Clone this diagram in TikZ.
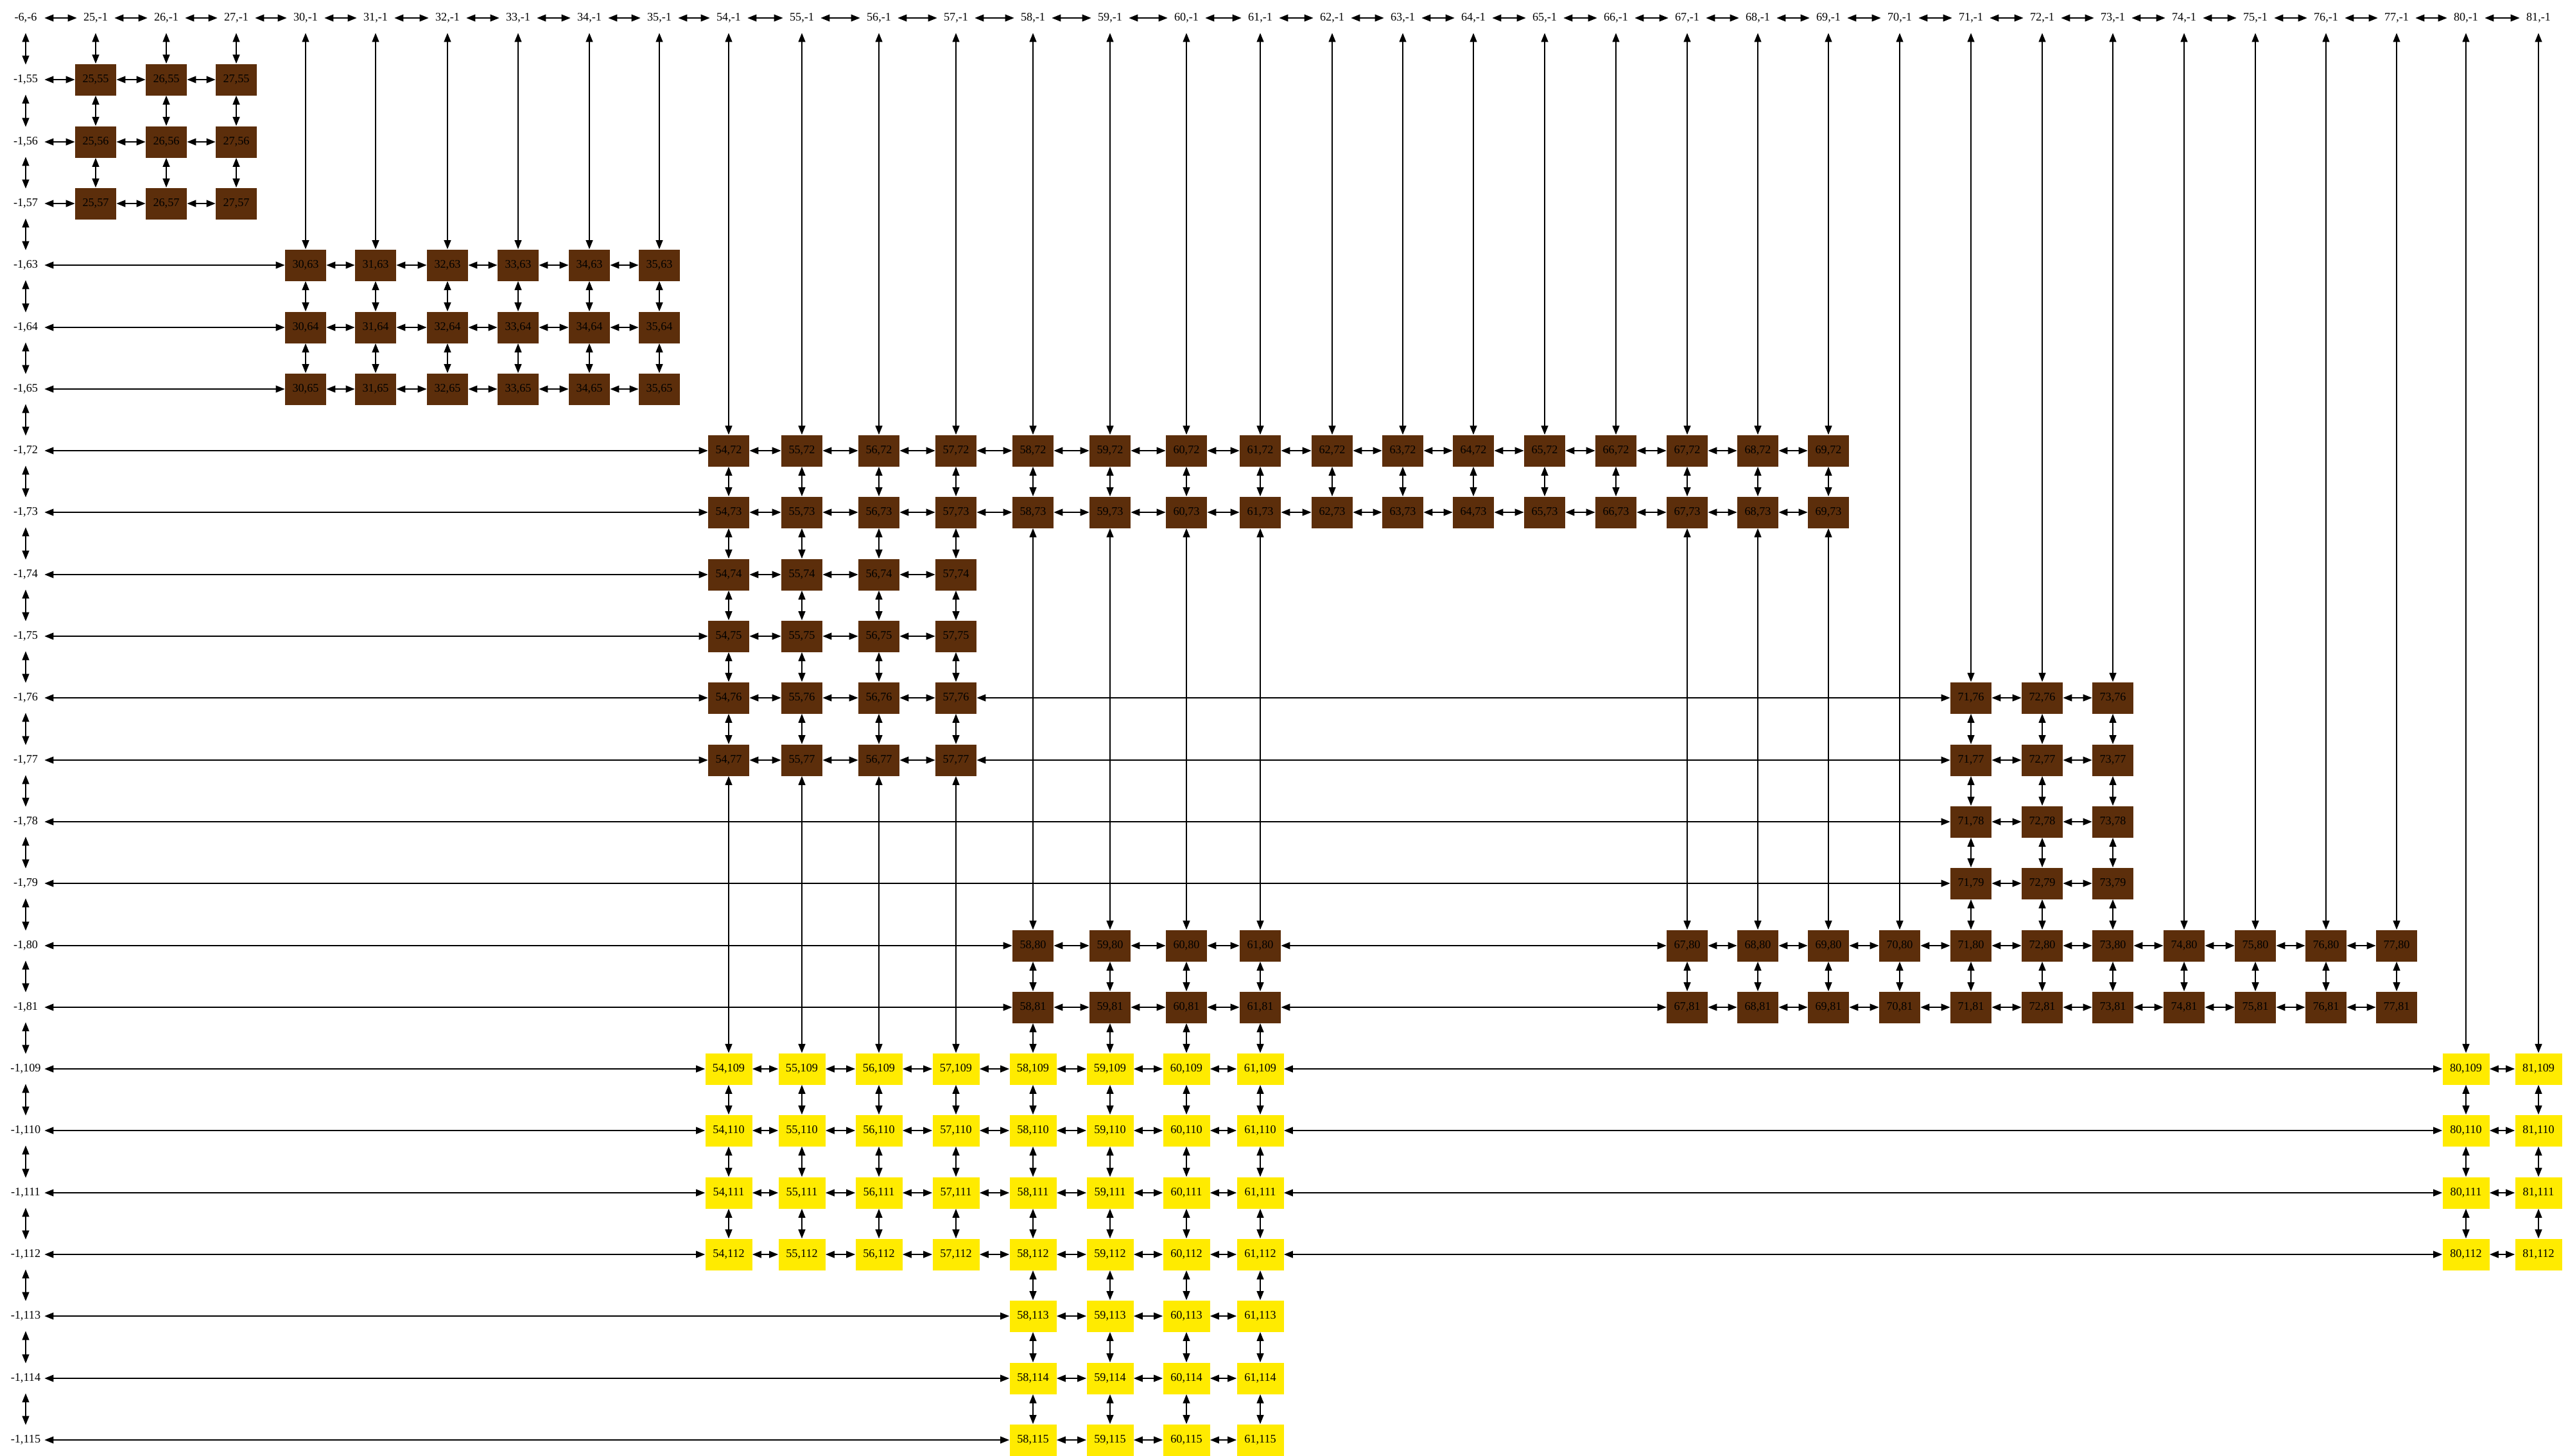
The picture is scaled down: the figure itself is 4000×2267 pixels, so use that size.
\documentclass[tikz,border=0pt]{standalone}
\usepackage{fontspec}
\setmainfont{Liberation Serif}
\usetikzlibrary{arrows.meta}
\definecolor{cellbrown}{RGB}{92,46,11}
\definecolor{cellyellow}{RGB}{255,235,0}

\begin{document}
\begin{tikzpicture}[
  x=0.5pt, y=-0.5pt,
  hdr/.style={inner sep=0pt, minimum width=29pt, minimum height=23pt, font=\fontsize{9.1}{10}\selectfont},
  brick/.style={fill=cellbrown, inner sep=0pt, minimum width=32pt, minimum height=24.5pt, font=\fontsize{9.1}{10}\selectfont},
  gold/.style={brick, fill=cellyellow, minimum width=36.5pt},
  link/.style={{Triangle[length=7pt,width=5.5pt]}-{Triangle[length=7pt,width=5.5pt]}, line width=0.65pt}
]
  \useasboundingbox (0,0) rectangle (4000,2267);

  % header row and header column
  \node[hdr] (n0-0) at (40,28) {-6,-6};
  \foreach \c/\x in {25/149, 26/259, 27/368, 30/476, 31/585, 32/697, 33/807, 34/918, 35/1027,
                     54/1135, 55/1249, 56/1369, 57/1489, 58/1609, 59/1729, 60/1848, 61/1963,
                     62/2075, 63/2185, 64/2295, 65/2406, 66/2517, 67/2628, 68/2738, 69/2848,
                     70/2959, 71/3070, 72/3181, 73/3291, 74/3402, 75/3513, 76/3623, 77/3733,
                     80/3841, 81/3954}
    \node[hdr] (n\c-0) at (\x,28) {\c,-1};
  \foreach \r/\y in {55/124, 56/221, 57/317, 63/413, 64/510, 65/606, 72/702, 73/798,
                     74/895, 75/991, 76/1087, 77/1184, 78/1280, 79/1376, 80/1473, 81/1569,
                     109/1665, 110/1761, 111/1858, 112/1954, 113/2050, 114/2147, 115/2243}
    \node[hdr] (n0-\r) at (40,\y) {-1,\r};

  % cells
  \foreach \cols/\rows/\kind in {
      {25,26,27}/{55,56,57}/brick,
      {30,...,35}/{63,64,65}/brick,
      {54,...,69}/{72,73}/brick,
      {54,...,57}/{74,...,77}/brick,
      {71,72,73}/{76,...,79}/brick,
      {58,...,61,67,68,...,77}/{80,81}/brick,
      {54,...,61,80,81}/{109,...,112}/gold,
      {58,...,61}/{113,114,115}/gold}
    \foreach \r in \rows
      \foreach \c in \cols
        \node[\kind] (n\c-\r) at (n\c-0 |- n0-\r) {\c,\r};

  % links along the rows
  \foreach \c [remember=\c as \p (initially 0)] in {25,26,27,30,31,32,33,34,35,54,55,56,57,58,59,60,61,
      62,63,64,65,66,67,68,69,70,71,72,73,74,75,76,77,80,81}
    \draw[link] (n\p-0) -- (n\c-0);
  \foreach \rows/\cols in {
      {55,56,57}/{25,26,27},
      {63,64,65}/{30,31,32,33,34,35},
      {72,73}/{54,55,56,57,58,59,60,61,62,63,64,65,66,67,68,69},
      {74,75}/{54,55,56,57},
      {76,77}/{54,55,56,57,71,72,73},
      {78,79}/{71,72,73},
      {80,81}/{58,59,60,61,67,68,69,70,71,72,73,74,75,76,77},
      {109,...,112}/{54,55,56,57,58,59,60,61,80,81},
      {113,114,115}/{58,59,60,61}}
    \foreach \r in \rows
      \foreach \c [remember=\c as \p (initially 0)] in \cols
        \draw[link] (n\p-\r) -- (n\c-\r);

  % links along the columns
  \foreach \r [remember=\r as \p (initially 0)] in {55,56,57,63,64,65,72,73,74,75,76,77,78,79,80,81,
      109,110,111,112,113,114,115}
    \draw[link] (n0-\p) -- (n0-\r);
  \foreach \cols/\rows in {
      {25,26,27}/{55,56,57},
      {30,...,35}/{63,64,65},
      {54,...,57}/{72,73,74,75,76,77,109,110,111,112},
      {58,...,61}/{72,73,80,81,109,110,111,112,113,114,115},
      {62,...,66}/{72,73},
      {67,68,69}/{72,73,80,81},
      {70}/{80,81},
      {71,72,73}/{76,77,78,79,80,81},
      {74,...,77}/{80,81},
      {80,81}/{109,110,111,112}}
    \foreach \c in \cols
      \foreach \r [remember=\r as \p (initially 0)] in \rows
        \draw[link] (n\c-\p) -- (n\c-\r);
\end{tikzpicture}
\end{document}
